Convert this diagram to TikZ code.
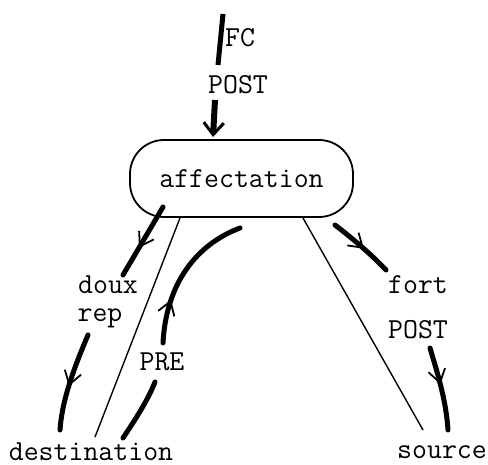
\documentclass[tikz,border=0pt]{standalone}
\usetikzlibrary{arrows.meta,decorations.markings}
\begin{document}
\begin{tikzpicture}[x=1pt,y=-1pt,
  lbl/.style={font=\ttfamily\fontsize{29}{29}\selectfont, inner sep=0pt},
  thickline/.style={line width=5pt, line cap=round},
  thinline/.style={line width=1.4pt},
  midbarb/.style={postaction={decorate}, decoration={markings,
     mark=at position #1 with {\arrow{Straight Barb[length=13pt,width=17pt,line width=1.8pt]}}}}
]
\useasboundingbox (0,0) rectangle (488,465);
% box
\node[lbl, draw, line width=1.8pt, rounded corners=34pt, minimum width=223pt, minimum height=77pt]
  (aff) at (241.5,178.5) {affectation};
% labels
\node[lbl, anchor=west] (fc) at (225,38) {FC};
\node[lbl] (post1) at (238,85) {POST};
\node[lbl] (doux) at (108,285) {doux};
\node[lbl] (rep) at (100,318) {rep};
\node[lbl] (pre) at (162,362) {PRE};
\node[lbl] (fort) at (418,285) {fort};
\node[lbl] (post2) at (418,330) {POST};
\node[lbl] (dest) at (91,452) {destination};
\node[lbl] (src) at (442,452) {source};
% coordinates for segment ends
\coordinate (t1) at (223,14);
\coordinate (t2) at (218,65);
\coordinate (a1) at (215,100);
\coordinate (a2) at (213,137);
\coordinate (d1) at (163,207);
\coordinate (d2) at (123,275);
\coordinate (r1) at (88,335);
\coordinate (r2) at (60,430);
\coordinate (p1) at (123,438);
\coordinate (p2) at (155,382);
\coordinate (p3) at (163,343);
\coordinate (p4) at (240,228);
\coordinate (f1) at (335,225);
\coordinate (f2) at (386,270);
\coordinate (s1) at (430,348);
\coordinate (s2) at (448,430);
\coordinate (lt) at (180,218);
\coordinate (lb) at (95,437);
\coordinate (rt) at (303,218);
\coordinate (rb) at (423,430);
% thin lines
\draw[thinline] (lt) -- (lb);
\draw[thinline] (rt) -- (rb);
% thick connectors
\draw[line width=5pt] (t1) -- (t2);
\draw[line width=6pt, -{Straight Barb[length=12pt,width=20pt,line width=3pt]}] (a1) -- (a2);
\draw[thickline, midbarb=0.6] (d1) -- (d2);
\draw[thickline, midbarb=0.55] (r1) .. controls (74,368) and (62,400) .. (r2);
\draw[thickline] (p1) .. controls (135,420) and (148,400) .. (p2);
\draw[thickline, midbarb=0.3] (p3) .. controls (166,285) and (195,245) .. (p4);
\draw[thickline, midbarb=0.55] (f1) .. controls (352,238) and (372,255) .. (f2);
\draw[thickline, midbarb=0.45] (s1) .. controls (438,375) and (446,400) .. (s2);
\end{tikzpicture}
\end{document}
